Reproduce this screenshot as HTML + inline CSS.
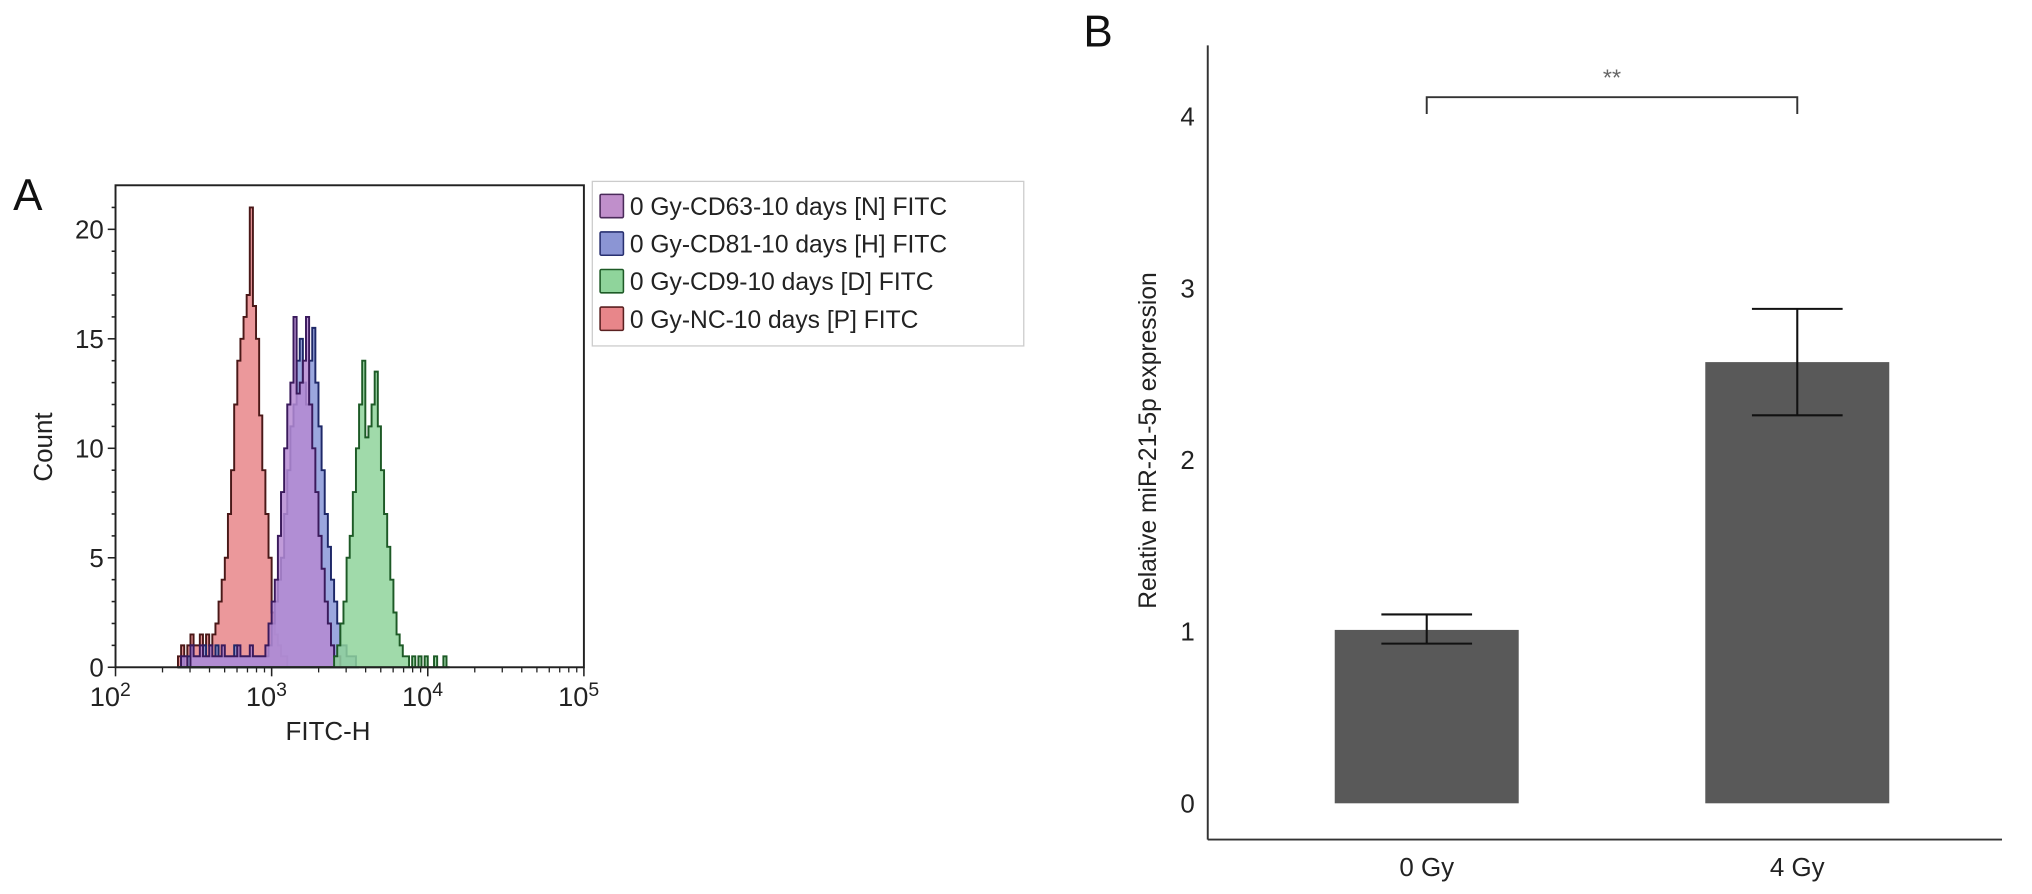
<!DOCTYPE html>
<html><head><meta charset="utf-8"><style>
html,body{margin:0;padding:0;background:#fff;}
svg{display:block;font-family:"Liberation Sans",Arial,sans-serif;}
</style></head><body>
<svg id="fig" width="2032" height="894" viewBox="0 0 1568 690" xmlns="http://www.w3.org/2000/svg">
<g id="panelA"></g>
<g id="panelB"></g>
</svg>
<script>
// ---------- Panel A data ----------
const histBinStart = 2.40;   // log10 FITC-H of first bin
const histBinStep = 0.02;
const redCounts = [0.5,1,0.5,1,1.5,1,1,1.5,1,1.5,1,1.5,2,3,4,5,7,9,12,14,15,16,17,21,16.5,15,11.5,9,7,5,2.5,1.5,1,0.5,0.5,0];
const purpleCounts = [0,0.5,0.5,0,1,0.5,0.5,1,0.5,0.5,1,0.5,0.5,0.5,1,0.5,0.5,0.5,0.5,1,0.5,0.5,0.5,1,0.5,0.5,0.5,0.5,1,2,3,4,6,8,10,12,13,16,12.5,13,14,16,12,10,8,6,4.5,3,2,1,0.5,0.5,0];
const blueCounts = [0,0.5,0,0.5,1,0.5,0.5,0.5,1,0.5,0.5,0.5,1,0.5,0.5,0.5,0.5,0.5,1,0.5,0.5,0.5,0.5,0.5,0.5,0.5,0.5,0.5,0.5,1,2,3,4,5,7,9,11,12,14,15,13,12,14,15.5,13,11,9,7,5.5,4,3,2,1,1,0.5,0.5,0.5,0];
const greenCounts = [0,0,0,0,0,0,0,0,0,0,0,0,0,0,0,0,0,0,0,0,0,0,0,0,0,0,0,0,0,0,0,0,0,0,0,0,0,0,0,0,0,0,0,0,0,0,0,0,0,0,0.5,1,2,3,5,6,8,10,12,14,10.5,11,12,13.5,11,9,7,5.5,4,2.5,1.5,1,0.5,0.5,0,0.5,0,0.5,0,0.5,0,0,0.5,0,0,0.5,0];
const yTicksA = [0,5,10,15,20];
const xDecadesA = [2,3,4,5];
const legendLabels = ["0 Gy-CD63-10 days [N] FITC","0 Gy-CD81-10 days [H] FITC","0 Gy-CD9-10 days [D] FITC","0 Gy-NC-10 days [P] FITC"];
// ---------- Panel B data ----------
const groups = ["0 Gy","4 Gy"];
const means = [1.01,2.57];
const errLow = [0.93,2.26];
const errHigh = [1.10,2.88];
const yTicksB = [0,1,2,3,4];

const NS="http://www.w3.org/2000/svg";
function mk(parent,tag,attrs,text){const e=document.createElementNS(NS,tag);for(const k in attrs)e.setAttribute(k,attrs[k]);if(text!==undefined)e.textContent=text;parent.appendChild(e);return e;}

// ----- Panel A -----
const A=document.getElementById('panelA');
const aL=89,aR=450.5,aT=143,aB=515;
const xA=l=>aL+(l-2)*(aR-aL)/3;
const yA=c=>aB-c*16.9;
let t=mk(A,'text',{x:10,y:162,'font-size':34,fill:'#111'},'A');


function hist(counts,fill,stroke,name){
  let d='M'+xA(histBinStart)+','+yA(0);
  counts.forEach((c,i)=>{const x0=xA(histBinStart+i*histBinStep),x1=xA(histBinStart+(i+1)*histBinStep);d+=' L'+x0+','+yA(c)+' L'+x1+','+yA(c);});
  d+=' L'+xA(histBinStart+counts.length*histBinStep)+','+yA(0)+' Z';
  const p=mk(A,'path',{d:d,fill:fill,'fill-opacity':0.85,stroke:stroke,'stroke-width':1.5});
  
  
}
hist(redCounts,'#e8868a','#4a1818','histogram-nc');
hist(blueCounts,'#8a98d8','#1e2868','histogram-cd81');
hist(purpleCounts,'#b58ad2','#3a1a5c','histogram-cd63');
hist(greenCounts,'#8fd49b','#1d5a26','histogram-cd9');

let box=mk(A,'rect',{x:aL,y:aT,width:aR-aL,height:aB-aT,fill:'none',stroke:'#222','stroke-width':1.5});

for(let v=0;v<=21;v++){const major=v%5===0;mk(A,'line',{x1:aL-(major?6:3),x2:aL,y1:yA(v),y2:yA(v),stroke:'#222','stroke-width':1.2});}
yTicksA.forEach(v=>{const e=mk(A,'text',{x:aL-9,y:yA(v)+7,'font-size':20,'text-anchor':'end',fill:'#222'},String(v));});
xDecadesA.forEach((d,i)=>{
  mk(A,'line',{x1:xA(d),x2:xA(d),y1:aB,y2:aB+7,stroke:'#222','stroke-width':1.2});
  if(i<xDecadesA.length-1)for(let m=2;m<=9;m++){const xm=xA(d+Math.log10(m));mk(A,'line',{x1:xm,x2:xm,y1:aB,y2:aB+4,stroke:'#222','stroke-width':1});}
  const e=mk(A,'text',{x:xA(d)-4,y:aB+30,'font-size':21,'text-anchor':'middle',fill:'#222'});
  
  mk(e,'tspan',{},'10');mk(e,'tspan',{dy:-8,'font-size':15},String(d));
});
t=mk(A,'text',{x:253,y:571,'font-size':20,'text-anchor':'middle',fill:'#222'},'FITC-H');

t=mk(A,'text',{x:0,y:0,'font-size':20,'text-anchor':'middle',fill:'#222',transform:'translate(40,345) rotate(-90)'},'Count');


// legend
const lg=mk(A,'g',{});

mk(lg,'rect',{x:457,y:140,width:333,height:127,fill:'#fff',stroke:'#ccc','stroke-width':1});
const swF=['#c08fcb','#8b95d4','#8fd49b','#e8868a'],swS=['#4a2a5a','#283070','#1d5a26','#5a2020'];
legendLabels.forEach((lab,i)=>{
  const g=mk(lg,'g',{});
  
  const y=150+i*29;
  mk(g,'rect',{x:463,y:y,width:18,height:18,fill:swF[i],stroke:swS[i],'stroke-width':1.2,rx:1});
  mk(g,'text',{x:486,y:y+16,'font-size':19,fill:'#222'},lab);
});

// ----- Panel B -----
const B=document.getElementById('panelB');
const bL=932,bR=1545,bBase=648,y0=620,pu=132.5;
const yB=v=>y0-v*pu;
const xB=i=>1101+i*286;
const bw=142;
t=mk(B,'text',{x:836,y:36,'font-size':34,fill:'#111'},'B');

t=mk(B,'line',{x1:bL,x2:bL,y1:35,y2:bBase,stroke:'#333','stroke-width':1.5});

t=mk(B,'line',{x1:bL,x2:bR,y1:bBase,y2:bBase,stroke:'#333','stroke-width':1.5});

yTicksB.forEach(v=>{const e=mk(B,'text',{x:922,y:yB(v)+7,'font-size':20,'text-anchor':'end',fill:'#222'},String(v));});
t=mk(B,'text',{x:0,y:0,'font-size':19,'text-anchor':'middle',fill:'#222',transform:'translate(892,340) rotate(-90)'},'Relative miR-21-5p expression');

groups.forEach((gname,i)=>{
  const cx=xB(i);
  const r=mk(B,'rect',{x:cx-bw/2,y:yB(means[i]),width:bw,height:yB(0)-yB(means[i]),fill:'#595959'});
  
  const eg=mk(B,'g',{stroke:'#111','stroke-width':1.6});
  
  mk(eg,'line',{x1:cx,x2:cx,y1:yB(errLow[i]),y2:yB(errHigh[i])});
  mk(eg,'line',{x1:cx-35,x2:cx+35,y1:yB(errLow[i]),y2:yB(errLow[i])});
  mk(eg,'line',{x1:cx-35,x2:cx+35,y1:yB(errHigh[i]),y2:yB(errHigh[i])});
  const e=mk(B,'text',{x:cx,y:676,'font-size':20,'text-anchor':'middle',fill:'#222'},gname);
  
});
const br=mk(B,'path',{d:'M'+xB(0)+',88 V75 H'+xB(1)+' V88',fill:'none',stroke:'#333','stroke-width':1.5});

t=mk(B,'text',{x:(xB(0)+xB(1))/2,y:66,'font-size':18,'text-anchor':'middle',fill:'#666'},'**');

</script>
</body></html>
